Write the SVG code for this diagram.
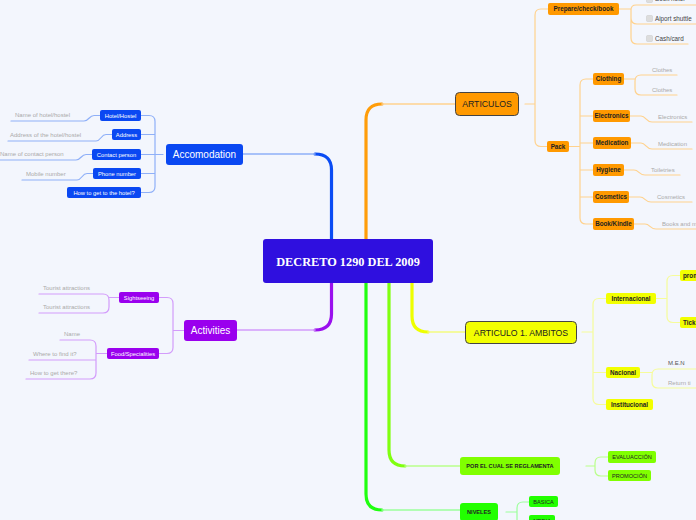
<svg xmlns="http://www.w3.org/2000/svg" width="696" height="520" viewBox="0 0 696 520">
<style>
text{font-family:"Liberation Sans",Arial,sans-serif}
.c{text-anchor:middle}
.lf{font-size:6px;fill:#aaaaaa}
.bn rect{fill:#0a48f2}
.bn text{font-size:5.8px;fill:#fff}
.pn rect{fill:#9a00ee}
.pn text{font-size:5.8px;fill:#fff}
.on rect{fill:#ff9900}
.on text{font-size:6.3px;font-weight:bold;fill:#222}
.yn rect{fill:#f2ff00}
.yn text{font-size:6.3px;font-weight:bold;fill:#222}
.ln rect{fill:#80ff00}
.ln text{font-size:5.6px;fill:#222}
.gn rect{fill:#22ff00}
.gn text{font-size:5.6px;fill:#222}
.k{fill:none;stroke-linecap:round}
.kb{stroke:#8fb0f8;stroke-width:1.2}
.kp{stroke:#d39cfb;stroke-width:1.2}
.ko{stroke:#ffd28e;stroke-width:1.2}
.ky{stroke:#f6fc9a;stroke-width:1.2}
.kl{stroke:#b9ff8a;stroke-width:1.2}
.kg{stroke:#9cff9c;stroke-width:1.2}
.cb{fill:#dddddd;stroke:#cccccc;stroke-width:0.6}
</style>
<rect width="696" height="520" fill="#f3f6fd"/>
<g id="connectors">
<path class="k" stroke="#0a4cf4" stroke-width="3.2" d="M331.5,240 V170 Q331.5,154 315,154"/>
<path class="k" stroke="#8fb0f8" stroke-width="1.6" d="M315,154 H243"/>
<path class="k" stroke="#ff9d0a" stroke-width="3.2" d="M366,240 V120 Q366,104 382,104"/>
<path class="k" stroke="#ffd28e" stroke-width="1.6" d="M382,104 H455"/>
<path class="k" stroke="#9a10ee" stroke-width="3.2" d="M331.5,282 V314 Q331.5,330 315,330"/>
<path class="k" stroke="#d39cfb" stroke-width="1.6" d="M315,330 H237"/>
<path class="k" stroke="#eeff00" stroke-width="3.2" d="M412,282 V316 Q412,332 428,332"/>
<path class="k" stroke="#f4fc80" stroke-width="1.6" d="M428,332 H465"/>
<path class="k" stroke="#80ff10" stroke-width="3.2" d="M389,282 V450 Q389,466 405,466"/>
<path class="k" stroke="#b9ff8a" stroke-width="1.6" d="M405,466 H460"/>
<path class="k" stroke="#20ff10" stroke-width="3.2" d="M366,282 V494 Q366,510 382,510"/>
<path class="k" stroke="#9cff9c" stroke-width="1.6" d="M382,510 H460"/>
<path class="k kb" d="M163,154.5 H155 M141,115.5 H149 Q155,115.5 155,121.5 V186.5 Q155,192.5 149,192.5 H141 M155,134.5 H141 M155,154.5 H141 M155,173.5 H141"/>
<path class="k kb" d="M100,115.5 H94 C89,115.5 89,121 84,121 H11 M112,134.5 H106 C101,134.5 101,141 96,141 H8 M92,154.5 H86 C81,154.5 81,160 76,160 H0 M93,173.5 H87 C82,173.5 82,180 77,180 H22"/>
<path class="k kp" d="M184,330.5 H173 M159,297.5 H167 Q173,297.5 173,303.5 V347.5 Q173,353.5 167,353.5 H159"/>
<path class="k kp" d="M119,297.5 H109 M39,294 H103 Q109,294 109,300 V307 Q109,313 103,313 H39 M107,353.5 H96 M60,340 H90 Q96,340 96,346 V373 Q96,379 90,379 H26 M96,360 H29"/>
<path class="k ko" d="M525,104 H535 M548,9 H541 Q535,9 535,15 V140.5 Q535,146.5 541,146.5 H547"/>
<path class="k ko" d="M619,9 H631 M631,9 V10 Q631,5 636,5 H696 M631,9 V18 Q631,24 637,24 H696 M631,18 V38 Q631,44 637,44 H688"/>
<path class="k ko" d="M569,146.5 H580 M593,79 H586 Q580,79 580,85 V218 Q580,224 586,224 H593 M580,116 H593 M580,143 H593 M580,170 H593 M580,197 H593"/>
<path class="k ko" d="M624,79 H635 M677,75 H641 Q635,75 635,81 V89 Q635,95 641,95 H677"/>
<path class="k ko" d="M630,116 H641 C646,116 646,122 652,122 H692 M631,143 H641 C646,143 646,149 652,149 H692 M624,170 H634 C639,170 639,175 645,175 H680 M629,197 H640 C645,197 645,202 651,202 H692 M634,224 H645 C650,224 650,229 656,229 H696"/>
<path class="k ky" d="M582,332 H593 M606,298.5 H599 Q593,298.5 593,304.5 V398.5 Q593,404.5 599,404.5 H606 M593,372.5 H606"/>
<path class="k ky" d="M656,298.5 H667 M680,275.5 H673 Q667,275.5 667,281.5 V316.5 Q667,322.5 673,322.5 H680"/>
<path class="k ky" d="M640,372.5 H652 M696,369 H658 Q652,369 652,375 V382 Q652,388 658,388 H696"/>
<path class="k kl" d="M586,466 H595 M608,457 H601 Q595,457 595,463 V470 Q595,476 601,476 H608"/>
<path class="k kg" d="M506,512 H517 M529,502 H523 Q517,502 517,508 V520 M517,512 V521"/>
</g>
<g id="central"><rect x="263" y="239" width="170" height="44" rx="3" fill="#2f0fdf"/><text x="348" y="265.5" class="c" style="font-family:'Liberation Serif','Times New Roman',serif;font-weight:bold;font-size:12.3px" fill="#fff">DECRETO 1290 DEL 2009</text></g>
<g id="accomodation"><rect x="166" y="144" width="77" height="21" rx="3" fill="#0a48f2"/><text x="204.5" y="158" class="c" font-size="10" fill="#fff">Accomodation</text></g>
<g id="hotel" class="bn"><rect x="100" y="110" width="41" height="11" rx="2"/><text x="120.5" y="117.6" class="c">Hotel/Hostel</text></g>
<g id="address" class="bn"><rect x="112" y="129" width="29" height="11" rx="2"/><text x="126.5" y="136.6" class="c">Address</text></g>
<g id="contact" class="bn"><rect x="92" y="149" width="49" height="11" rx="2"/><text x="116.5" y="156.6" class="c">Contact person</text></g>
<g id="phone" class="bn"><rect x="93" y="168" width="48" height="11" rx="2"/><text x="117" y="175.6" class="c">Phone number</text></g>
<g id="howhotel" class="bn"><rect x="67" y="187" width="74" height="11" rx="2"/><text x="104" y="194.6" class="c">How to get to the hotel?</text></g>
<g id="acc-leaves"><text x="15" y="117" class="lf">Name of hotel/hostel</text><text x="10" y="137" class="lf">Address of the hotel/hostel</text><text x="0" y="156" class="lf">Name of contact person</text><text x="26" y="176" class="lf">Mobile number</text></g>
<g id="activities"><rect x="184" y="320" width="53" height="21" rx="3" fill="#9a00ee"/><text x="210.5" y="334" class="c" font-size="10" fill="#fff">Activities</text></g>
<g id="sightseeing" class="pn"><rect x="119" y="292" width="40" height="11" rx="2"/><text x="139" y="299.6" class="c">Sightseeing</text></g>
<g id="food" class="pn"><rect x="107" y="348" width="52" height="11" rx="2"/><text x="133" y="355.6" class="c">Food/Specialities</text></g>
<g id="act-leaves"><text x="43" y="290" class="lf">Tourist attractions</text><text x="43" y="309" class="lf">Tourist attractions</text><text x="64" y="336" class="lf">Name</text><text x="33" y="356" class="lf">Where to find it?</text><text x="30" y="375" class="lf">How to get there?</text></g>
<g id="articulos"><rect x="455.5" y="92.5" width="63" height="23" rx="4" fill="#ff9900" stroke="#444" stroke-width="1"/><text x="487" y="107" class="c" font-size="8.7" fill="#222">ARTICULOS</text></g>
<g id="prepare" class="on"><rect x="548" y="3" width="71" height="12" rx="2"/><text x="583.5" y="11.3" class="c">Prepare/check/book</text></g>
<g id="checks"><rect x="646.5" y="-3.5" width="6" height="6" rx="1" class="cb"/><text x="655" y="1" font-size="6.3" fill="#444">Book hotel</text><rect x="646.5" y="15.5" width="6" height="6" rx="1" class="cb"/><text x="655" y="20.5" font-size="6.3" fill="#444">Aiport shuttle</text><rect x="646.5" y="35.5" width="6" height="6" rx="1" class="cb"/><text x="655" y="40.5" font-size="6.3" fill="#444">Cash/card</text></g>
<g id="pack" class="on"><rect x="547" y="141" width="22" height="11" rx="2"/><text x="558" y="148.6" class="c">Pack</text></g>
<g id="clothing" class="on"><rect x="593" y="73" width="31" height="12" rx="2"/><text x="608.5" y="81.3" class="c">Clothing</text></g>
<g id="electronics" class="on"><rect x="593" y="110" width="37" height="12" rx="2"/><text x="611.5" y="118.3" class="c">Electronics</text></g>
<g id="medication" class="on"><rect x="593" y="137" width="38" height="12" rx="2"/><text x="612" y="145.3" class="c">Medication</text></g>
<g id="hygiene" class="on"><rect x="593" y="164" width="31" height="12" rx="2"/><text x="608.5" y="172.3" class="c">Hygiene</text></g>
<g id="cosmetics" class="on"><rect x="593" y="191" width="36" height="12" rx="2"/><text x="611" y="199.3" class="c">Cosmetics</text></g>
<g id="book" class="on"><rect x="593" y="218" width="41" height="12" rx="2"/><text x="613.5" y="226.3" class="c">Book/Kindle</text></g>
<g id="pack-leaves"><text x="652" y="72" class="lf">Clothes</text><text x="652" y="92" class="lf">Clothes</text><text x="658" y="118.5" class="lf">Electronics</text><text x="658" y="145.5" class="lf">Medication</text><text x="651" y="172" class="lf">Toiletries</text><text x="657" y="199" class="lf">Cosmetics</text><text x="662" y="226" class="lf">Books and m</text></g>
<g id="ambitos"><rect x="465.5" y="321.5" width="111" height="22" rx="4" fill="#f2ff00" stroke="#444" stroke-width="1"/><text x="521" y="335.5" class="c" font-size="8.7" fill="#222">ARTICULO 1. AMBITOS</text></g>
<g id="internacional" class="yn"><rect x="606" y="293" width="50" height="11" rx="2"/><text x="631" y="300.6" class="c">Internacional</text></g>
<g id="nacional" class="yn"><rect x="606" y="367" width="34" height="11" rx="2"/><text x="623" y="374.6" class="c">Nacional</text></g>
<g id="institucional" class="yn"><rect x="606" y="399" width="47" height="11" rx="2"/><text x="629.5" y="406.6" class="c">Institucional</text></g>
<g id="prom" class="yn"><rect x="680" y="270" width="22" height="11" rx="2"/><text x="683" y="277.6">prom</text></g>
<g id="tick" class="yn"><rect x="680" y="317" width="22" height="11" rx="2"/><text x="683" y="324.6">Tick</text></g>
<g id="nac-leaves"><text x="668" y="365" font-size="6" fill="#555">M.E.N</text><text x="668" y="384.5" class="lf">Return ti</text></g>
<g id="reglamenta" class="ln"><rect x="460" y="457" width="100" height="18" rx="3"/><text x="510" y="468" class="c" font-weight="bold">POR EL CUAL SE REGLAMENTA</text></g>
<g id="evaluaccion" class="ln"><rect x="608" y="451" width="48" height="12" rx="2"/><text x="632" y="459.2" class="c">EVALUACCIÓN</text></g>
<g id="promocion" class="ln"><rect x="608" y="470" width="43" height="11" rx="2"/><text x="629.5" y="477.6" class="c">PROMOCIÓN</text></g>
<g id="niveles" class="gn"><rect x="460" y="503" width="38" height="18" rx="3"/><text x="479" y="514" class="c" font-weight="bold">NIVELES</text></g>
<g id="basica" class="gn"><rect x="529" y="496" width="29" height="11" rx="2"/><text x="543.5" y="503.6" class="c">BASICA</text></g>
<g id="media" class="gn"><rect x="529" y="515" width="26" height="11" rx="2"/><text x="542" y="522.6" class="c">MEDIA</text></g>
</svg>
